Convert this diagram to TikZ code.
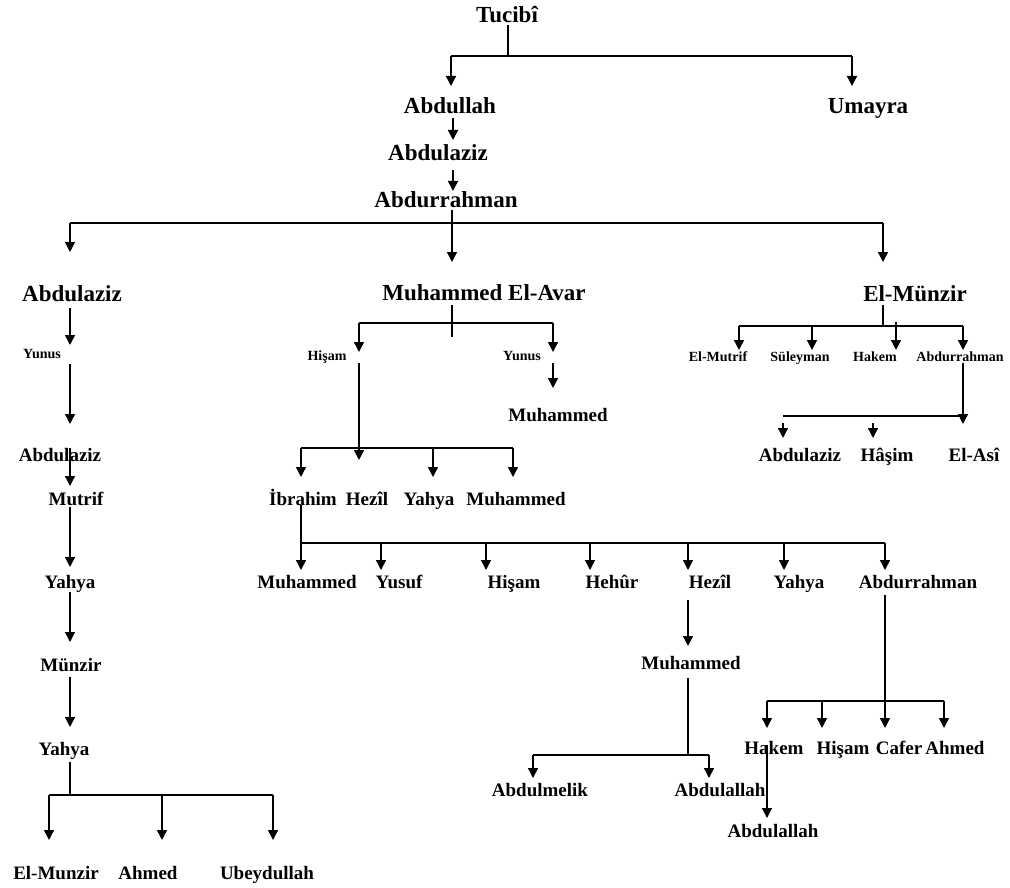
\documentclass[tikz,border=0pt]{standalone}
\usepackage{fontspec}
\setmainfont{Liberation Serif}
\usetikzlibrary{arrows.meta,calc}
\begin{document}
\begin{tikzpicture}[x=1pt,y=-1pt,
 nd/.style={inner sep=0pt,text height=13pt,text depth=0pt,font=\bfseries\fontsize{19}{19}\selectfont},
 big/.style={nd,text height=15.6pt,font=\bfseries\fontsize{23}{23}\selectfont},
 sm/.style={nd,text height=9.6pt,font=\bfseries\fontsize{14}{14}\selectfont},
 ln/.style={line width=1.4pt},
 arr/.style={ln,-{Triangle[length=10pt,width=10pt]}}]
\useasboundingbox (0,0) rectangle (1010,888);
% nodes
\node[big] (tuc) at (507,15) {Tucibî};
\node[big] (abdullah) at (450,106) {Abdullah};
\node[big] (umayra) at (868,106) {Umayra};
\node[big] (abdaz1) at (438,153) {Abdulaziz};
\node[big] (abdr1) at (446,200) {Abdurrahman};
\node[big] (abdaz2) at (72,294) {Abdulaziz};
\node[big] (mea) at (484,293) {Muhammed El-Avar};
\node[big] (elmunzir) at (915,294) {El-Münzir};
% left column
\node[sm] (yunus1) at (42,354) {Yunus};
\node[nd] (abdaz3) at (60,455) {Abdulaziz};
\node[nd] (mutrif) at (76,499) {Mutrif};
\node[nd] (yahya1) at (70,582) {Yahya};
\node[nd] (munzir) at (71,665) {Münzir};
\node[nd] (yahya2) at (64,749) {Yahya};
\node[nd] (elmunzir2) at (56,873) {El-Munzir};
\node[nd] (ahmed1) at (148,873) {Ahmed};
\node[nd] (ubeyd) at (267,873) {Ubeydullah};
% middle
\node[sm] (hisam1) at (327,356) {Hişam};
\node[sm] (yunus2) at (522,356) {Yunus};
\node[nd] (muh1) at (558,415) {Muhammed};
\node[nd] (ibrahim) at (303,499) {İbrahim};
\node[nd] (hezil1) at (367,499) {Hezîl};
\node[nd] (yahya3) at (429,499) {Yahya};
\node[nd] (muh2) at (516,499) {Muhammed};
\node[nd] (muh3) at (307,582) {Muhammed};
\node[nd] (yusuf) at (399,582) {Yusuf};
\node[nd] (hisam2) at (514,582) {Hişam};
\node[nd] (hehur) at (612,582) {Hehûr};
\node[nd] (hezil2) at (710,582) {Hezîl};
\node[nd] (yahya4) at (799,582) {Yahya};
\node[nd] (abdr2) at (918,582) {Abdurrahman};
\node[nd] (muh4) at (691,663) {Muhammed};
\node[nd] (abdulmelik) at (540,790) {Abdulmelik};
\node[nd] (abdulallah1) at (720,790) {Abdulallah};
\node[nd] (hakem1) at (774,748) {Hakem};
\node[nd] (hisam3) at (843,748) {Hişam};
\node[nd] (cafer) at (899,748) {Cafer};
\node[nd] (ahmed2) at (955,748) {Ahmed};
\node[nd] (abdulallah2) at (773,831) {Abdulallah};
% right
\node[sm] (elmutrif) at (718,357) {El-Mutrif};
\node[sm] (suleyman) at (800,357) {Süleyman};
\node[sm] (hakem2) at (875,357) {Hakem};
\node[sm] (abdr3) at (960,357) {Abdurrahman};
\node[nd] (abdaz4) at (800,455) {Abdulaziz};
\node[nd] (hasim) at (887,455) {Hâşim};
\node[nd] (elasi) at (974,455) {El-Asî};
% bus coordinates
\coordinate (b0) at (508,56); \coordinate (b0l) at (451,56); \coordinate (b0r) at (852,56);
\coordinate (b1l) at (70,223); \coordinate (b1r) at (883,223);
\coordinate (b2m) at (70,795); \coordinate (b2l) at (49,795); \coordinate (b2c) at (162,795); \coordinate (b2r) at (273,795);
\coordinate (b3m) at (452,337); \coordinate (b3l) at (359,323); \coordinate (b3r) at (553,323);
\coordinate (b4l) at (301,448); \coordinate (b4m) at (433,448); \coordinate (b4r) at (513,448);
\coordinate (b5l) at (301,543); \coordinate (b5r) at (885,543);
\coordinate (b6m) at (688,755); \coordinate (b6l) at (533,755); \coordinate (b6r) at (709,755);
\coordinate (b7l) at (767,701); \coordinate (b7c) at (822,701); \coordinate (b7r) at (944,701);
\coordinate (b8m) at (883,326); \coordinate (b8l) at (739,326); \coordinate (b8r) at (963,326);
\coordinate (b8c) at (812,326); \coordinate (b8d) at (896,322);
\coordinate (b9l) at (783,416); \coordinate (b9r) at (963,416);
% top
\draw[ln] ($(tuc)+(1,10)$) -- (b0);
\draw[ln] (b0l) -- (b0r);
\draw[arr] (b0l) -- ($(abdullah)+(1,-20)$);
\draw[arr] (b0r) -- ($(umayra)+(-16,-20)$);
\draw[arr] ($(abdullah)+(3,12)$) -- ($(abdaz1)+(15,-13)$);
\draw[arr] ($(abdaz1)+(15,17)$) -- ($(abdr1)+(7,-9)$);
\draw[arr] ($(abdr1)+(6,10)$) -- ($(mea)+(-32,-31)$);
\draw[ln] (b1l) -- (b1r);
\draw[arr] (b1l) -- ($(abdaz2)+(-2,-42)$);
\draw[arr] (b1r) -- ($(elmunzir)+(-32,-32)$);
% left column
\draw[arr] ($(abdaz2)+(-2,14)$) -- ($(yunus1)+(28,-9)$);
\draw[arr] ($(yunus1)+(28,10)$) -- ($(abdaz3)+(10,-31)$);
\draw[arr] ($(abdaz3)+(10,-7)$) -- ($(mutrif)+(-6,-13)$);
\draw[arr] ($(mutrif)+(-6,8)$) -- ($(yahya1)+(0,-15)$);
\draw[arr] ($(yahya1)+(0,10)$) -- ($(munzir)+(-1,-23)$);
\draw[arr] ($(munzir)+(-1,12)$) -- ($(yahya2)+(6,-22)$);
\draw[ln] ($(yahya2)+(6,13)$) -- (b2m);
\draw[ln] (b2l) -- (b2r);
\draw[arr] (b2l) -- ($(elmunzir2)+(-7,-33)$);
\draw[arr] (b2c) -- ($(ahmed1)+(14,-33)$);
\draw[arr] (b2r) -- ($(ubeyd)+(6,-33)$);
% middle
\draw[ln] ($(mea)+(-32,12)$) -- (b3m);
\draw[ln] (b3l) -- (b3r);
\draw[arr] (b3l) -- ($(hisam1)+(32,-4)$);
\draw[arr] (b3r) -- ($(yunus2)+(31,-4)$);
\draw[arr] ($(yunus2)+(31,7)$) -- ($(muh1)+(-5,-27)$);
\draw[ln] (b4l) -- (b4r);
\draw[arr] ($(hisam1)+(32,7)$) -- ($(hezil1)+(-8,-39)$);
\draw[arr] (b4l) -- ($(ibrahim)+(-2,-22)$);
\draw[arr] (b4m) -- ($(yahya3)+(4,-22)$);
\draw[arr] (b4r) -- ($(muh2)+(-3,-22)$);
\draw[ln] ($(ibrahim)+(-2,6)$) -- (b5l) -- (b5r);
\draw[arr] (b5l) -- ($(muh3)+(-6,-12)$);
\draw[arr] ($(yusuf)+(-18,-39)$) -- ($(yusuf)+(-18,-12)$);
\draw[arr] ($(hisam2)+(-28,-39)$) -- ($(hisam2)+(-28,-12)$);
\draw[arr] ($(hehur)+(-22,-39)$) -- ($(hehur)+(-22,-12)$);
\draw[arr] ($(hezil2)+(-22,-39)$) -- ($(hezil2)+(-22,-12)$);
\draw[arr] ($(yahya4)+(-15,-39)$) -- ($(yahya4)+(-15,-12)$);
\draw[arr] (b5r) -- ($(abdr2)+(-33,-12)$);
\draw[arr] ($(hezil2)+(-22,18)$) -- ($(muh4)+(-3,-17)$);
\draw[ln] ($(muh4)+(-3,15)$) -- (b6m);
\draw[ln] (b6l) -- (b6r);
\draw[arr] (b6l) -- ($(abdulmelik)+(-7,-12)$);
\draw[arr] (b6r) -- ($(abdulallah1)+(-11,-12)$);
\draw[arr] ($(abdr2)+(-33,13)$) -- ($(cafer)+(-14,-20)$);
\draw[ln] (b7l) -- (b7r);
\draw[arr] (b7l) -- ($(hakem1)+(-7,-20)$);
\draw[arr] (b7c) -- ($(hisam3)+(-21,-20)$);
\draw[arr] (b7r) -- ($(ahmed2)+(-11,-20)$);
\draw[arr] ($(hakem1)+(-7,-3)$) -- ($(abdulallah2)+(-6,-13)$);
% right
\draw[ln] ($(elmunzir)+(-32,11)$) -- (b8m);
\draw[ln] (b8l) -- (b8r);
\draw[arr] (b8l) -- ($(elmutrif)+(21,-7)$);
\draw[arr] (b8c) -- ($(suleyman)+(12,-7)$);
\draw[arr] (b8d) -- ($(hakem2)+(21,-7)$);
\draw[arr] (b8r) -- ($(abdr3)+(3,-7)$);
\draw[arr] ($(abdr3)+(3,6)$) -- ($(elasi)+(-11,-31)$);
\draw[ln] (b9l) -- (b9r);
\draw[arr] ($(abdaz4)+(-17,-32)$) -- ($(abdaz4)+(-17,-17)$);
\draw[arr] ($(hasim)+(-14,-32)$) -- ($(hasim)+(-14,-17)$);
\end{tikzpicture}
\end{document}
